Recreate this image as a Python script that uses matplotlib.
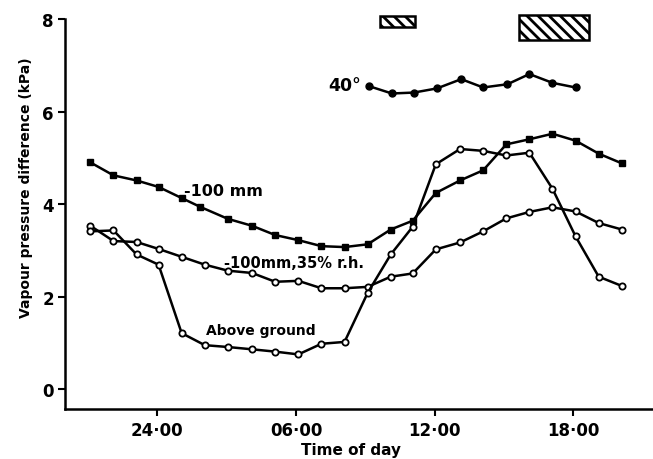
import matplotlib
matplotlib.use("Agg")
import matplotlib.pyplot as plt
from matplotlib.patches import Rectangle

# ---- Data (hours since midnight of day 1; 24 = midnight) ----
hours = [21.1, 22.1, 23.1, 24.05, 25.05, 26.05, 27.05, 28.1, 29.1, 30.1, 31.1, 32.1,
         33.1, 34.1, 35.05, 36.05, 37.1, 38.1, 39.1, 40.1, 41.1, 42.1, 43.1, 44.1]
hours_soil = [21.1, 22.1, 23.1, 24.05, 25.05, 25.85, 27.05, 28.1, 29.1, 30.1, 31.1, 32.1,
              33.1, 34.1, 35.05, 36.05, 37.1, 38.1, 39.1, 40.1, 41.1, 42.1, 43.1, 44.1]
hours_40 = [33.15, 34.15, 35.1, 36.1, 37.15, 38.1, 39.15, 40.1, 41.1, 42.1]

soil_100 = [4.90, 4.62, 4.51, 4.37, 4.13, 3.94, 3.68, 3.53, 3.33, 3.22, 3.09, 3.07,
            3.13, 3.45, 3.64, 4.24, 4.51, 4.73, 5.29, 5.40, 5.52, 5.37, 5.09, 4.88]
soil_100_rh35 = [3.53, 3.20, 3.18, 3.03, 2.86, 2.69, 2.56, 2.51, 2.32, 2.34, 2.18, 2.18,
                 2.21, 2.43, 2.50, 3.02, 3.17, 3.41, 3.69, 3.83, 3.93, 3.84, 3.59, 3.45]
above_ground = [3.41, 3.43, 2.91, 2.69, 1.21, 0.95, 0.91, 0.86, 0.81, 0.75, 0.98, 1.02,
                2.08, 2.91, 3.51, 4.86, 5.19, 5.15, 5.05, 5.11, 4.33, 3.30, 2.43, 2.23]
surface_40 = [6.55, 6.39, 6.41, 6.50, 6.70, 6.52, 6.59, 6.81, 6.62, 6.52]

# hatched bars along the top: (start hour, end hour, bottom, top)
bars = [(33.64, 35.15, 7.83, 8.07), (39.67, 42.68, 7.54, 8.08)]

tick_hours = [24, 30, 36, 42]
tick_labels = ["24·00", "06·00", "12·00", "18·00"]

plt.rcParams["font.family"] = ["DejaVu Sans"]
plt.rcParams["font.weight"] = "bold"
plt.rcParams["hatch.linewidth"] = 2.0

fig = plt.figure(figsize=(6.53, 4.60), dpi=100)
ax = fig.add_axes([0.0995, 0.1087, 0.9005, 0.8478])

lw = 1.8
ax.plot(hours_soil, soil_100, color="black", lw=lw, marker="s", ms=4.5,
        mfc="black", mec="black", clip_on=False)
ax.plot(hours, soil_100_rh35, color="black", lw=lw, marker="o", ms=4.5,
        mfc="white", mec="black", mew=1.3, clip_on=False)
ax.plot(hours, above_ground, color="black", lw=lw, marker="o", ms=4.5,
        mfc="white", mec="black", mew=1.3, clip_on=False)
ax.plot(hours_40, surface_40, color="black", lw=lw, marker="o", ms=5,
        mfc="black", mec="black", clip_on=False)

for x0, x1, y0, y1 in bars:
    ax.add_patch(Rectangle((x0, y0), x1 - x0, y1 - y0, facecolor="white",
                           edgecolor="black", hatch="\\\\\\", lw=1.8, clip_on=False))

# curve labels
ax.text(25.15, 4.30, "-100 mm", fontsize=11.5, va="center", ha="left")
ax.text(26.9, 2.74, "-100mm,35% r.h.", fontsize=10.5, va="center", ha="left")
ax.text(26.1, 1.27, "Above ground", fontsize=10, va="center", ha="left")
ax.text(32.8, 6.57, "40°", fontsize=12.5, va="center", ha="right")

ax.set_xlim(20, 45.45)
ax.set_ylim(-0.43, 8)
ax.set_xticks(tick_hours)
ax.set_xticklabels(tick_labels)
ax.set_yticks([0, 2, 4, 6, 8])
ax.tick_params(direction="out", length=5, width=1.5, labelsize=12)
ax.tick_params(axis="y", pad=3)

for side in ("top", "right"):
    ax.spines[side].set_visible(False)
for side in ("left", "bottom"):
    ax.spines[side].set_linewidth(1.8)

ax.set_xlabel("Time of day", fontsize=11, fontweight="bold")
ax.set_ylabel("Vapour pressure difference (kPa)", fontsize=10, fontweight="bold")
ax.xaxis.set_label_coords(0.487, -0.085)
ax.yaxis.set_label_coords(-0.055, 0.57)

fig.savefig("out.png", dpi=100)
